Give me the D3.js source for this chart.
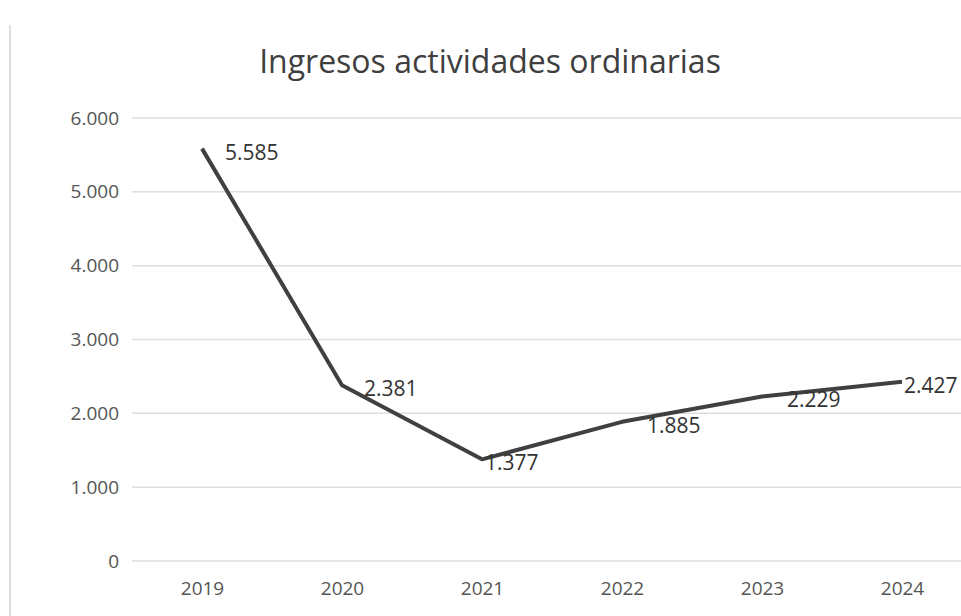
<!DOCTYPE html>
<html>
<head>
<meta charset="utf-8">
<script src="https://cdn.jsdelivr.net/npm/d3@7"></script>
<style>
  body { margin: 0; background: #fff; }
  text { font-family: "Open Sans", sans-serif; }
</style>
</head>
<body>
<svg id="chart" width="961" height="616"></svg>
<script>
// data
var years = ["2019", "2020", "2021", "2022", "2023", "2024"];
var ingresos = [5585, 2381, 1377, 1885, 2229, 2427];
var yTicks = [0, 1000, 2000, 3000, 4000, 5000, 6000];

// label nudges (layout only, px to the right of each point)
var labelNudge = [23, 22, 3, 25, 25, 2];

var svg = d3.select("#chart");
var fmt = d3.formatLocale({decimal: ",", thousands: ".", grouping: [3], currency: ["", ""]}).format(",d");

var xScale = d3.scalePoint()
    .domain(years)
    .range([132, 972])
    .padding(0.5);
var yScale = d3.scaleLinear()
    .domain([0, 6000])
    .range([561, 118]);

// chart border on the left
svg.append("line")
    .attr("x1", 10).attr("x2", 10)
    .attr("y1", 25).attr("y2", 616)
    .attr("stroke", "#d4d4d4")
    .attr("stroke-width", 1.5);

// title
svg.append("text")
    .attr("x", 490)
    .attr("y", 73)
    .attr("text-anchor", "middle")
    .attr("fill", "#3f3f3f")
    .style("font-size", "32px")
    .text("Ingresos actividades ordinarias");

// gridlines
svg.append("g")
    .selectAll("line")
    .data(yTicks)
    .join("line")
    .attr("x1", 132)
    .attr("x2", 961)
    .attr("y1", d => yScale(d))
    .attr("y2", d => yScale(d))
    .attr("stroke", "#dedede")
    .attr("stroke-width", 1.5);

// y axis
var yAxis = d3.axisLeft(yScale)
    .tickValues(yTicks)
    .tickSize(0)
    .tickPadding(0)
    .tickFormat(fmt);
var gy = svg.append("g")
    .attr("transform", "translate(119,0)")
    .call(yAxis);
gy.select(".domain").remove();
gy.selectAll("text")
    .attr("x", 0)
    .attr("fill", "#555")
    .style("font-size", "19px")
    .style("font-family", "Open Sans, sans-serif");

// x axis
var xAxis = d3.axisBottom(xScale)
    .tickSize(0)
    .tickPadding(0);
var gx = svg.append("g")
    .attr("transform", "translate(0,581)")
    .call(xAxis);
gx.select(".domain").remove();
gx.selectAll("text")
    .attr("fill", "#555")
    .style("font-size", "19px")
    .style("font-family", "Open Sans, sans-serif");

// line
var line = d3.line()
    .x((d, i) => xScale(years[i]))
    .y(d => yScale(d));
svg.append("path")
    .datum(ingresos)
    .attr("d", line)
    .attr("fill", "none")
    .attr("stroke", "#404040")
    .attr("stroke-width", 4)
    .attr("stroke-linejoin", "round");

// data labels
svg.append("g")
    .selectAll("text")
    .data(ingresos)
    .join("text")
    .attr("x", (d, i) => xScale(years[i]) + labelNudge[i])
    .attr("y", d => yScale(d) + 11)
    .attr("fill", "#333")
    .style("font-size", "21px")
    .text(d => fmt(d));
</script>
</body>
</html>
